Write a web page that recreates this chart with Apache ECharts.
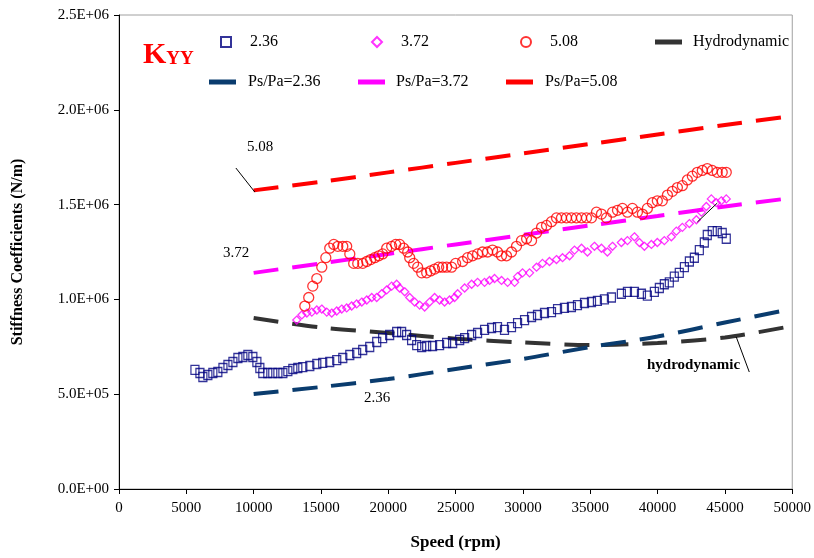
<!DOCTYPE html>
<html>
<head>
<meta charset="utf-8">
<script src="https://cdn.jsdelivr.net/npm/echarts@6/dist/echarts.min.js"></script>
<style>
  html, body { margin: 0; padding: 0; background: #fff; }
  #main { width: 814px; height: 558px; }
</style>
</head>
<body>
<div id="main"></div>
<script>
// measured points, Ps/Pa = 2.36 (squares)
var meas236 = [
    [5640, 6.28e5], [6010, 6.12e5], [6230, 5.91e5], [6600, 6.01e5], [6970, 6.12e5], [7340, 6.17e5],
    [7720, 6.38e5], [8090, 6.54e5], [8460, 6.70e5], [8830, 6.91e5], [9200, 6.96e5], [9570, 7.07e5],
    [9940, 6.96e5], [10240, 6.70e5], [10460, 6.38e5], [10680, 6.12e5], [11050, 6.12e5], [11420, 6.12e5],
    [11800, 6.12e5], [12170, 6.12e5], [12540, 6.22e5], [12910, 6.33e5], [13280, 6.38e5], [13650, 6.43e5],
    [14170, 6.49e5], [14690, 6.59e5], [15130, 6.65e5], [15650, 6.70e5], [16170, 6.80e5], [16620, 6.91e5],
    [17140, 7.07e5], [17650, 7.17e5], [18100, 7.33e5], [18620, 7.49e5], [19140, 7.75e5], [19580, 7.96e5],
    [20100, 8.12e5], [20620, 8.28e5], [20990, 8.28e5], [21360, 8.12e5], [21730, 7.86e5], [22110, 7.59e5],
    [22480, 7.49e5], [22850, 7.54e5], [23290, 7.54e5], [23810, 7.59e5], [24330, 7.70e5], [24780, 7.70e5],
    [25300, 7.86e5], [25670, 7.96e5], [26190, 8.12e5], [26630, 8.23e5], [27150, 8.39e5], [27670, 8.49e5],
    [28110, 8.54e5], [28630, 8.39e5], [29150, 8.54e5], [29600, 8.75e5], [30120, 8.91e5], [30640, 9.07e5],
    [31080, 9.18e5], [31600, 9.28e5], [32120, 9.33e5], [32570, 9.49e5], [33080, 9.55e5], [33600, 9.60e5],
    [34050, 9.70e5], [34570, 9.81e5], [35090, 9.86e5], [35530, 9.92e5], [36050, 1.00e6], [36570, 1.01e6],
    [37310, 1.03e6], [37760, 1.04e6], [38280, 1.04e6], [38800, 1.03e6], [39240, 1.02e6], [39760, 1.04e6],
    [40130, 1.06e6], [40500, 1.08e6], [40870, 1.09e6], [41240, 1.12e6], [41610, 1.14e6], [41990, 1.17e6],
    [42360, 1.20e6], [42730, 1.22e6], [43100, 1.26e6], [43470, 1.30e6], [43690, 1.34e6], [44060, 1.36e6],
    [44430, 1.36e6], [44800, 1.35e6], [45100, 1.32e6]
];
// measured points, Ps/Pa = 3.72 (diamonds)
var meas372 = [
    [13200, 8.91e5], [13580, 9.18e5], [13950, 9.28e5], [14320, 9.33e5], [14690, 9.44e5], [15060, 9.49e5],
    [15430, 9.33e5], [15800, 9.28e5], [16170, 9.39e5], [16540, 9.49e5], [16910, 9.55e5], [17280, 9.65e5],
    [17650, 9.76e5], [18030, 9.86e5], [18400, 9.97e5], [18770, 1.01e6], [19140, 1.01e6], [19510, 1.03e6],
    [19880, 1.05e6], [20250, 1.07e6], [20620, 1.08e6], [20840, 1.06e6], [21220, 1.04e6], [21590, 1.01e6],
    [21960, 9.86e5], [22330, 9.70e5], [22700, 9.60e5], [23070, 9.86e5], [23440, 1.01e6], [23810, 9.97e5],
    [24180, 9.86e5], [24550, 9.97e5], [24920, 1.01e6], [25150, 1.03e6], [25670, 1.06e6], [26190, 1.08e6],
    [26630, 1.09e6], [27150, 1.09e6], [27520, 1.10e6], [27890, 1.11e6], [28410, 1.10e6], [28860, 1.09e6],
    [29380, 1.09e6], [29600, 1.12e6], [29970, 1.14e6], [30490, 1.14e6], [31010, 1.17e6], [31450, 1.19e6],
    [31970, 1.20e6], [32490, 1.21e6], [32940, 1.22e6], [33460, 1.23e6], [33830, 1.26e6], [34350, 1.27e6],
    [34790, 1.25e6], [35310, 1.28e6], [35830, 1.27e6], [36270, 1.25e6], [36650, 1.28e6], [37310, 1.30e6],
    [37760, 1.31e6], [38280, 1.33e6], [38650, 1.30e6], [39020, 1.28e6], [39540, 1.29e6], [39980, 1.30e6],
    [40500, 1.31e6], [41020, 1.33e6], [41390, 1.36e6], [41840, 1.38e6], [42360, 1.40e6], [42880, 1.42e6],
    [43250, 1.46e6], [43620, 1.49e6], [43990, 1.53e6], [44360, 1.51e6], [44730, 1.52e6], [45100, 1.53e6]
];
// measured points, Ps/Pa = 5.08 (circles)
var meas508 = [
    [13800, 9.65e5], [14090, 1.01e6], [14390, 1.07e6], [14690, 1.11e6], [15060, 1.17e6], [15360, 1.22e6],
    [15650, 1.27e6], [15950, 1.29e6], [16250, 1.28e6], [16620, 1.28e6], [16910, 1.28e6], [17140, 1.24e6],
    [17430, 1.19e6], [17730, 1.19e6], [18100, 1.19e6], [18400, 1.20e6], [18690, 1.21e6], [18990, 1.22e6],
    [19290, 1.23e6], [19580, 1.24e6], [19880, 1.27e6], [20250, 1.28e6], [20550, 1.29e6], [20840, 1.29e6],
    [21140, 1.27e6], [21440, 1.25e6], [21590, 1.22e6], [21880, 1.19e6], [22180, 1.17e6], [22480, 1.14e6],
    [22850, 1.14e6], [23140, 1.15e6], [23440, 1.16e6], [23740, 1.17e6], [24030, 1.17e6], [24330, 1.17e6],
    [24700, 1.17e6], [25000, 1.19e6], [25520, 1.20e6], [25890, 1.22e6], [26260, 1.23e6], [26630, 1.24e6],
    [27000, 1.25e6], [27370, 1.25e6], [27740, 1.26e6], [28110, 1.25e6], [28410, 1.23e6], [28780, 1.23e6],
    [29150, 1.25e6], [29520, 1.28e6], [29890, 1.31e6], [30270, 1.32e6], [30640, 1.31e6], [31010, 1.35e6],
    [31380, 1.38e6], [31750, 1.39e6], [32120, 1.41e6], [32490, 1.43e6], [32860, 1.43e6], [33230, 1.43e6],
    [33600, 1.43e6], [33970, 1.43e6], [34350, 1.43e6], [34720, 1.43e6], [35090, 1.43e6], [35460, 1.46e6],
    [35830, 1.45e6], [36200, 1.43e6], [36650, 1.46e6], [37020, 1.47e6], [37390, 1.48e6], [37760, 1.46e6],
    [38130, 1.48e6], [38500, 1.46e6], [38870, 1.45e6], [39240, 1.48e6], [39610, 1.51e6], [39980, 1.52e6],
    [40350, 1.52e6], [40730, 1.55e6], [41100, 1.57e6], [41470, 1.59e6], [41840, 1.60e6], [42210, 1.63e6],
    [42580, 1.65e6], [42950, 1.67e6], [43320, 1.68e6], [43690, 1.69e6], [44060, 1.68e6], [44430, 1.67e6],
    [44800, 1.67e6], [45100, 1.67e6]
];

// predicted curves
var predSpeed = [10000, 15000, 20000, 25000, 30000, 35000, 40000, 45000, 50000];
var pred236 = [5.01e5, 5.38e5, 5.80e5, 6.33e5, 6.86e5, 7.49e5, 8.04e5, 8.78e5, 9.50e5];
var pred372 = [1.14e6, 1.19e6, 1.24e6, 1.29e6, 1.34e6, 1.39e6, 1.44e6, 1.49e6, 1.535e6];
var pred508 = [1.575e6, 1.62e6, 1.67e6, 1.72e6, 1.77e6, 1.82e6, 1.87e6, 1.92e6, 1.967e6];
var hydro = [9.02e5, 8.52e5, 8.23e5, 7.93e5, 7.73e5, 7.59e5, 7.70e5, 7.99e5, 8.60e5];

// leader lines for the annotations (speed, stiffness)
var leaders = [
    [[8680, 1.693e6], [10090, 1.566e6]],
    [[42950, 1.408e6], [44430, 1.508e6]],
    [[45840, 8.02e5], [46810, 6.17e5]]
];

var serif = 'Liberation Serif';

function sci(v) {
    if (v === 0) return '0.0E+00';
    var e = Math.floor(Math.log10(v));
    var m = v / Math.pow(10, e);
    return m.toFixed(1) + 'E+' + (e < 10 ? '0' + e : e);
}

function pair(xs, ys) {
    return xs.map(function (x, i) { return [x, ys[i]]; });
}

function dashed(name, color, ys) {
    return {
        name: name,
        type: 'line',
        data: pair(predSpeed, ys),
        smooth: 0.3,
        symbol: 'none',
        lineStyle: { color: color, width: 4, type: [25, 14] },
        itemStyle: { color: color },
        z: 1
    };
}

function hollow(name, symbol, size, color, data) {
    return {
        name: name,
        type: 'scatter',
        data: data,
        symbol: symbol,
        symbolSize: size,
        itemStyle: { color: 'rgba(255,255,255,0)', borderColor: color, borderWidth: 1.3 },
        z: 3
    };
}

function legendAt(name, left, top, isLine, pad) {
    return {
        data: [name],
        left: left,
        top: top,
        padding: 0,
        itemWidth: isLine ? 27 : 10,
        itemHeight: isLine ? 5 : 10,
        icon: isLine ? 'rect' : undefined,
        textStyle: { fontFamily: serif, fontSize: 16, color: '#000', padding: [0, 0, 0, pad] },
        selectedMode: false
    };
}

var chart = echarts.init(document.getElementById('main'));

var hydroSeries = dashed('Hydrodynamic', '#333333', hydro);
hydroSeries.markLine = {
    silent: true,
    symbol: 'none',
    label: { show: false },
    lineStyle: { color: '#000', width: 1, type: 'solid' },
    data: leaders.map(function (l) { return [{ coord: l[0] }, { coord: l[1] }]; })
};

var option = {
    backgroundColor: '#fff',
    animation: false,
    grid: {
        left: 119, right: 21, top: 15, bottom: 69,
        show: true, borderColor: '#a0a0a0', borderWidth: 1
    },
    legend: [
        legendAt('2.36', 220, 34, false, 14),
        legendAt('3.72', 371, 34, false, 14),
        legendAt('5.08', 520, 34, false, 14),
        legendAt('Hydrodynamic', 655, 34, true, 6),
        legendAt('Ps/Pa=2.36', 209, 74, true, 7),
        legendAt('Ps/Pa=3.72', 358, 74, true, 6),
        legendAt('Ps/Pa=5.08', 506, 74, true, 7)
    ],
    xAxis: {
        type: 'value',
        min: 0, max: 50000, interval: 5000,
        name: 'Speed (rpm)',
        nameLocation: 'middle',
        nameGap: 45,
        nameTextStyle: { fontFamily: serif, fontSize: 17, fontWeight: 'bold', color: '#000' },
        axisLine: { lineStyle: { color: '#000', width: 1 } },
        axisTick: { length: 5, lineStyle: { color: '#000' } },
        axisLabel: {
            fontFamily: serif, fontSize: 15, color: '#000', margin: 12,
            formatter: function (v) { return String(v); }
        },
        splitLine: { show: false }
    },
    yAxis: {
        type: 'value',
        min: 0, max: 2.5e6, interval: 5e5,
        name: 'Stiffness Coefficients (N/m)',
        nameLocation: 'middle',
        nameGap: 93,
        nameTextStyle: { fontFamily: serif, fontSize: 16, fontWeight: 'bold', color: '#000' },
        axisLine: { show: true, lineStyle: { color: '#000', width: 1 } },
        axisTick: { show: true, length: 5, lineStyle: { color: '#000' } },
        axisLabel: { fontFamily: serif, fontSize: 15, color: '#000', margin: 10, formatter: sci },
        splitLine: { show: false }
    },
    graphic: [
        {
            type: 'text', left: 143, top: 40,
            style: {
                text: '{a|K}{b|YY}',
                rich: {
                    a: { fontFamily: serif, fontSize: 30, fontWeight: 'bold', fill: '#ff0000' },
                    b: { fontFamily: serif, fontSize: 19, fontWeight: 'bold', fill: '#ff0000', padding: [8, 0, 0, 0] }
                }
            }
        },
        { type: 'text', left: 247, top: 140, style: { text: '5.08', fontFamily: serif, fontSize: 15, fill: '#000' } },
        { type: 'text', left: 223, top: 246, style: { text: '3.72', fontFamily: serif, fontSize: 15, fill: '#000' } },
        { type: 'text', left: 364, top: 391, style: { text: '2.36', fontFamily: serif, fontSize: 15, fill: '#000' } },
        { type: 'text', left: 647, top: 358, style: { text: 'hydrodynamic', fontFamily: serif, fontSize: 15, fontWeight: 'bold', fill: '#000' } }
    ],
    series: [
        hollow('2.36', 'rect', [8, 9], '#000080', meas236),
        hollow('3.72', 'diamond', 8, '#ff00ff', meas372),
        hollow('5.08', 'circle', 10, '#ff0000', meas508),
        hydroSeries,
        dashed('Ps/Pa=2.36', '#0a3c6e', pred236),
        dashed('Ps/Pa=3.72', '#ff00ff', pred372),
        dashed('Ps/Pa=5.08', '#ff0000', pred508)
    ]
};

chart.setOption(option);
</script>
</body>
</html>
